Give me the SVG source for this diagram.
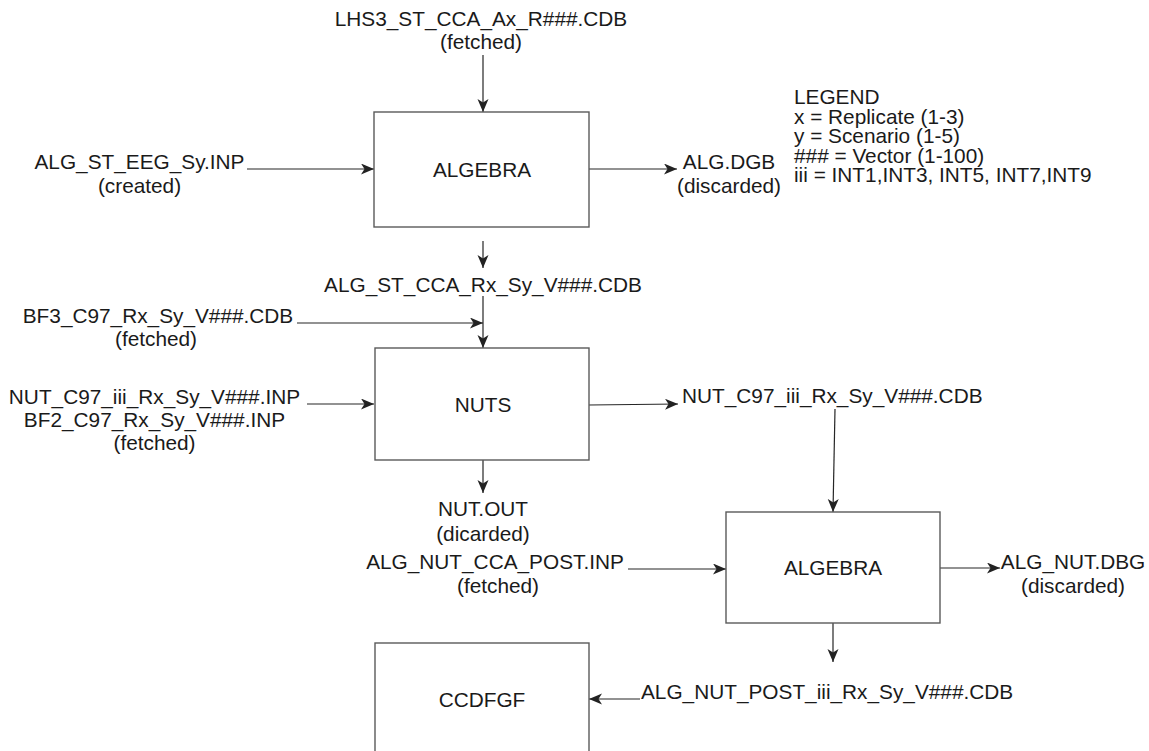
<svg xmlns="http://www.w3.org/2000/svg" width="1149" height="751" viewBox="0 0 1149 751">
<style>
text{font-family:"Liberation Sans",Arial,sans-serif;font-size:20.8px;fill:#1a1a1a}
.c{text-anchor:middle}
.box{fill:#fff;stroke:#5a5a5a;stroke-width:1.4}
.ln{fill:none;stroke:#262626;stroke-width:1.2}
</style>
<defs>
<marker id="ah" markerUnits="userSpaceOnUse" markerWidth="14" markerHeight="12" refX="13" refY="5.5" orient="auto">
<path d="M0,0 L13,5.5 L0,11 L3.5,5.5 Z" fill="#222"/>
</marker>
</defs>
<rect width="1149" height="751" fill="#fff"/>
<g id="connectors">
<path class="ln" d="M483,55 L483,112" marker-end="url(#ah)"/>
<path class="ln" d="M247,169 L374,169" marker-end="url(#ah)"/>
<path class="ln" d="M589,169 L677,169" marker-end="url(#ah)"/>
<path class="ln" d="M483,241 L483,268" marker-end="url(#ah)"/>
<path class="ln" d="M483,296 L483,348" marker-end="url(#ah)"/>
<path class="ln" d="M297,323 L483,323" marker-end="url(#ah)"/>
<path class="ln" d="M307,404 L374,404" marker-end="url(#ah)"/>
<path class="ln" d="M589,405 L678,404" marker-end="url(#ah)"/>
<path class="ln" d="M483,460 L483,493" marker-end="url(#ah)"/>
<path class="ln" d="M835,409 L833,512" marker-end="url(#ah)"/>
<path class="ln" d="M628,569 L726,569" marker-end="url(#ah)"/>
<path class="ln" d="M940,568 L1000,568" marker-end="url(#ah)"/>
<path class="ln" d="M833,623 L833,662" marker-end="url(#ah)"/>
<path class="ln" d="M640,699 L589,699" marker-end="url(#ah)"/>
</g>
<g id="algebra1">
<rect class="box" x="374" y="112" width="215" height="115"/>
<text class="c" x="482" y="177">ALGEBRA</text>
</g>
<g id="nuts">
<rect class="box" x="375" y="348" width="214" height="112"/>
<text class="c" x="483" y="412">NUTS</text>
</g>
<g id="algebra2">
<rect class="box" x="726" y="512" width="214" height="111"/>
<text class="c" x="833" y="575">ALGEBRA</text>
</g>
<g id="ccdfgf">
<rect class="box" x="375" y="643" width="214" height="115"/>
<text class="c" x="482" y="707">CCDFGF</text>
</g>
<g id="labels">
<text class="c" x="481" y="26">LHS3_ST_CCA_Ax_R###.CDB</text>
<text class="c" x="481" y="49">(fetched)</text>
<text class="c" x="139.5" y="169">ALG_ST_EEG_Sy.INP</text>
<text class="c" x="139.5" y="193">(created)</text>
<text class="c" x="729" y="169">ALG.DGB</text>
<text class="c" x="729" y="193">(discarded)</text>
<text class="c" x="483" y="292">ALG_ST_CCA_Rx_Sy_V###.CDB</text>
<text class="c" x="158" y="323">BF3_C97_Rx_Sy_V###.CDB</text>
<text class="c" x="156" y="346">(fetched)</text>
<text class="c" x="154.5" y="404">NUT_C97_iii_Rx_Sy_V###.INP</text>
<text class="c" x="154.5" y="427">BF2_C97_Rx_Sy_V###.INP</text>
<text class="c" x="154.5" y="450">(fetched)</text>
<text x="682" y="403">NUT_C97_iii_Rx_Sy_V###.CDB</text>
<text class="c" x="483" y="516">NUT.OUT</text>
<text class="c" x="483" y="541">(dicarded)</text>
<text class="c" x="495" y="569">ALG_NUT_CCA_POST.INP</text>
<text class="c" x="498" y="593">(fetched)</text>
<text class="c" x="1073" y="569">ALG_NUT.DBG</text>
<text class="c" x="1073" y="593">(discarded)</text>
<text x="641" y="699">ALG_NUT_POST_iii_Rx_Sy_V###.CDB</text>
</g>
<g id="legend">
<text x="794" y="104">LEGEND</text>
<text x="794" y="123.5">x = Replicate (1-3)</text>
<text x="794" y="143">y = Scenario (1-5)</text>
<text x="794" y="162.5">### = Vector (1-100)</text>
<text x="794" y="182">iii = INT1,INT3, INT5, INT7,INT9</text>
</g>
</svg>
